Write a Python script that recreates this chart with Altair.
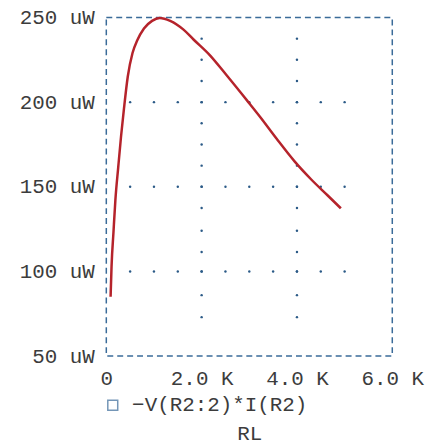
import altair as alt
import pandas as pd

# ---- data ----
rl_k = [0.09, 0.11, 0.15, 0.19, 0.25, 0.31, 0.37, 0.45, 0.55, 0.65, 0.79, 0.96,
        1.12, 1.34, 1.62, 1.83, 2.18, 2.52, 2.98, 3.22, 3.57, 3.95,
        4.30, 4.64, 4.92]
p_uw = [85, 103, 123, 142, 161.5, 180, 196, 215, 229, 236.5, 243.5, 248,
        249.7, 248, 242.8, 237, 227.5, 216, 200, 191.5, 178.5, 165,
        154.3, 145, 137.3]
series_name = "\u2212V(R2:2)*I(R2)"

x_ticks = [0, 2, 4, 6]
y_ticks = [50, 100, 150, 200, 250]

# dotted grid marks (PSpice style)
col_x = [2.0, 4.0]
col_y = [237.5, 225, 212.5, 200, 187.5, 175, 162.5, 150, 137.5, 124, 111.5, 100, 86, 73]
row_y = [200, 150, 100]
row_x = [0.5, 1.0, 1.5, 2.0, 2.5, 3.0, 3.5, 4.0, 4.5, 5.0]

FONT = "Liberation Mono"
TXT = "#3c3c3c"
BLUE = "#3a6b99"
DOT = "#2b5a87"
RED = "#b5232b"

curve = pd.DataFrame({"RL": rl_k, "P": p_uw})
dot_rows = [{"RL": cx, "P": cy} for cx in col_x for cy in col_y] + \
           [{"RL": rx, "P": ry} for ry in row_y for rx in row_x]
dots = pd.DataFrame(dot_rows)
# legend key: one clipped point outside the y domain, only there to carry the legend
legend_key = pd.DataFrame({"RL": [0.0], "P": [0.0], "trace": [series_name]})

xenc = alt.X(
    "RL:Q",
    scale=alt.Scale(domain=[0, 6], nice=False, zero=False),
    axis=alt.Axis(
        values=x_ticks,
        labelExpr="datum.value == 0 ? '0' : format(datum.value, '.1f') + ' K'",
        title="RL", ticks=False, domain=False, grid=False,
        labelPadding=12, labelFlush=False, labelOverlap=False,
        titleY=78, titleBaseline="middle",
    ),
)
yenc = alt.Y(
    "P:Q",
    scale=alt.Scale(domain=[50, 250], nice=False, zero=False),
    axis=alt.Axis(
        values=y_ticks,
        labelExpr="datum.value + ' uW'",
        title=None, ticks=False, domain=False, grid=False,
        labelPadding=12, labelFlush=False, labelOverlap=False,
    ),
)

dot_layer = alt.Chart(dots).mark_circle(size=6, color=DOT, opacity=1).encode(x=xenc, y=yenc)

line_layer = alt.Chart(curve).mark_line(
    strokeWidth=2.5, interpolate="monotone", color=RED
).encode(x=xenc, y=yenc)

key_layer = alt.Chart(legend_key).mark_point(
    filled=False, color=BLUE, strokeWidth=1.5, size=100, clip=True
).encode(
    x=xenc,
    y=yenc,
    shape=alt.Shape(
        "trace:N",
        scale=alt.Scale(domain=[series_name], range=["square"]),
        legend=alt.Legend(
            title=None, orient="none", legendX=-4, legendY=380,
            symbolSize=100, symbolStrokeWidth=1.5,
            labelFont=FONT, labelFontSize=21, labelColor=TXT, labelOffset=9,
            labelLimit=400,
        ),
    ),
)

chart = alt.layer(dot_layer, line_layer, key_layer).properties(
    width=288, height=341,
    autosize=alt.AutoSizeParams(type="none"),
    padding={"left": 99, "top": 8, "right": 40, "bottom": 90},
).configure_view(
    stroke=BLUE, strokeDash=[6, 4], strokeWidth=1.5
).configure_axis(
    labelFont=FONT, labelFontSize=21, labelColor=TXT,
    titleFont=FONT, titleFontSize=21, titleColor=TXT, titleFontWeight="normal",
)

chart.save("out.html", embed_options={"renderer": "svg", "actions": False})
